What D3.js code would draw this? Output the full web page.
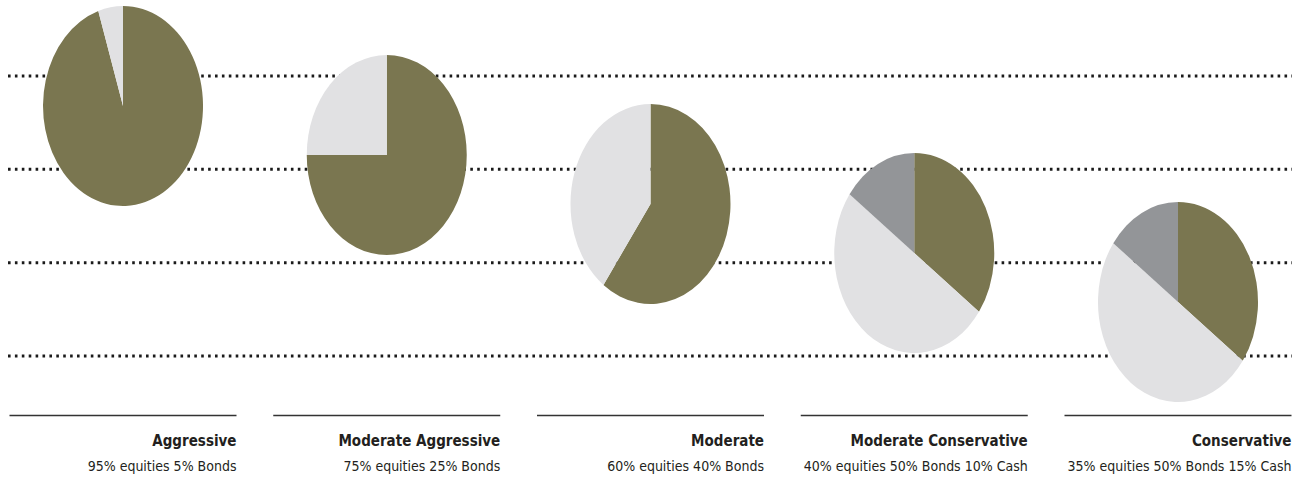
<!DOCTYPE html>
<html>
<head>
<meta charset="utf-8">
<script src="https://cdn.jsdelivr.net/npm/d3@7"></script>
<style>
  body { margin: 0; background: #fff; }
  svg { display: block; }
  text { font-family: "Liberation Sans Narrow", "DejaVu Sans Condensed", sans-serif; fill: #231f20; }
</style>
</head>
<body>
<svg id="chart" width="1302" height="481"></svg>
<script>
// portfolios, left to right
var profiles = [ "Aggressive", "Moderate Aggressive", "Moderate", "Moderate Conservative", "Conservative" ];
var captions = [
    "95% equities 5% Bonds",
    "75% equities 25% Bonds",
    "60% equities 40% Bonds",
    "40% equities 50% Bonds 10% Cash",
    "35% equities 50% Bonds 15% Cash"
];
var assets = [ "Equities", "Bonds", "Cash" ];
// slice sizes as drawn in the picture (4th pie is drawn like the 5th)
var equities = [ 95, 75, 60, 35, 35 ];
var bonds    = [ 5, 25, 40, 50, 50 ];
var cash     = [ 0, 0, 0, 15, 15 ];
var guides   = [ 0, 1, 2, 3 ];   // dotted background rules

(function () {
    var svg = d3.select( "#chart" );
    var colors = d3.scaleOrdinal()
        .domain( assets )
        .range( [ "#7a7650", "#e1e1e3", "#939598" ] );

    var x = d3.scalePoint().domain( profiles ).range( [ 123, 1178 ] );
    var y = d3.scalePoint().domain( profiles ).range( [ 106, 302 ] );
    var gy = d3.scalePoint().domain( guides ).range( [ 76, 356 ] );

    var rx = 80, ry = 100, half = 113.5;

    // dotted rules behind the pies
    svg.append( "g" ).selectAll( "line" )
        .data( guides )
        .enter().append( "line" )
        .attr( "x1", 8 )
        .attr( "x2", 1292 )
        .attr( "y1", function ( d ) { return gy( d ) } )
        .attr( "y2", function ( d ) { return gy( d ) } )
        .style( "stroke", "#1a1a1a" )
        .style( "stroke-width", 3 )
        .style( "stroke-dasharray", "2.6 4.3" );

    var pie = d3.pie().sort( null ).value( function ( d ) { return d.v } );
    var arc = d3.arc().innerRadius( 0 ).outerRadius( 1 );

    var groups = svg.append( "g" ).selectAll( "g" )
        .data( profiles )
        .enter().append( "g" );

    // pies, squeezed into ellipses
    groups.append( "g" )
        .attr( "transform", function ( d ) {
            return "translate(" + x( d ) + "," + y( d ) + ") scale(" + rx + "," + ry + ")";
        })
        .selectAll( "path" )
        .data( function ( d, i ) {
            return pie( [
                { k: "Equities", v: equities[ i ] },
                { k: "Bonds", v: bonds[ i ] },
                { k: "Cash", v: cash[ i ] }
            ] ).filter( function ( s ) { return s.data.v > 0 } );
        })
        .enter().append( "path" )
        .attr( "d", arc )
        .style( "fill", function ( d ) { return colors( d.data.k ) } );

    // rule and labels below each pie
    groups.append( "line" )
        .attr( "x1", function ( d ) { return x( d ) - half } )
        .attr( "x2", function ( d ) { return x( d ) + half } )
        .attr( "y1", 415.5 )
        .attr( "y2", 415.5 )
        .style( "stroke", "#333" )
        .style( "stroke-width", 1.3 );

    groups.append( "text" )
        .attr( "x", function ( d ) { return x( d ) + half } )
        .attr( "y", 446 )
        .attr( "text-anchor", "end" )
        .style( "font-size", "15px" )
        .style( "font-weight", "bold" )
        .text( function ( d ) { return d } );

    groups.append( "text" )
        .attr( "x", function ( d ) { return x( d ) + half } )
        .attr( "y", 471 )
        .attr( "text-anchor", "end" )
        .style( "font-size", "14px" )
        .text( function ( d, i ) { return captions[ i ] } );
})();
</script>
</body>
</html>
